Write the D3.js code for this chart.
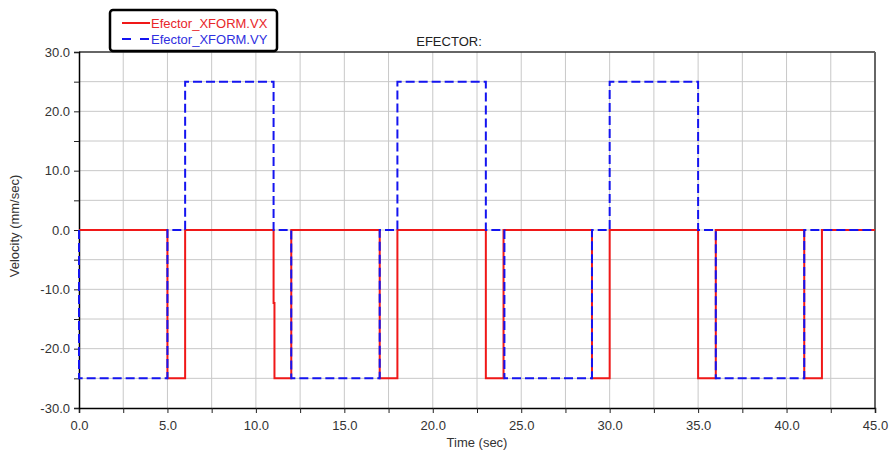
<!DOCTYPE html>
<html>
<head>
<meta charset="utf-8">
<script src="https://cdn.jsdelivr.net/npm/d3@7"></script>
<style>
    body { margin: 0; background: #fff; }
    text { font-family: "Liberation Sans", Arial, sans-serif; }
</style>
</head>
<body>
<svg id="chart"></svg>
<script>
(function () {
    // step series (time in sec, velocity in mm/sec)
    const vxTime  = [0, 5, 5, 6, 6, 11, 11, 11.05, 11.05, 12, 12, 17, 17, 18, 18, 23, 23, 24, 24, 29, 29, 30, 30, 35, 35, 36, 36, 41, 41, 42, 42, 45];
    const vxValue = [0, 0, -25, -25, 0, 0, -12.3, -12.3, -25, -25, 0, 0, -25, -25, 0, 0, -25, -25, 0, 0, -25, -25, 0, 0, -25, -25, 0, 0, -25, -25, 0, 0];

    const vyTime  = [0, 0, 5, 5, 6, 6, 11, 11, 12, 12, 17, 17, 18, 18, 23, 23, 24.05, 24.05, 29, 29, 30, 30, 35, 35, 36, 36, 41, 41, 45];
    const vyValue = [0, -25, -25, 0, 0, 25, 25, 0, 0, -25, -25, 0, 0, 25, 25, 0, 0, -25, -25, 0, 0, 25, 25, 0, 0, -25, -25, 0, 0];

    const xTicks = [0, 5, 10, 15, 20, 25, 30, 35, 40, 45];
    const xMinor = [2.5, 7.5, 12.5, 17.5, 22.5, 27.5, 32.5, 37.5, 42.5];
    const yTicks = [30, 20, 10, 0, -10, -20, -30];
    const yMinor = [25, 15, 5, -5, -15, -25];

    const seriesNames = ["Efector_XFORM.VX", "Efector_XFORM.VY"];
    const seriesColors = ["#f01818", "#1414f0"];
    const textColors = ["#e8262a", "#2f2fe0"];

    const width = 890, height = 455;
    const margin = {left: 79, right: 15, top: 52, bottom: 47};

    const svg = d3.select("#chart")
        .attr("width", width)
        .attr("height", height);

    const x = d3.scaleLinear().domain([0, 45]).range([margin.left, width - margin.right]);
    const y = d3.scaleLinear().domain([-30, 30]).range([height - margin.bottom, margin.top]);

    // grid
    const grid = svg.append("g");
    xTicks.concat(xMinor).filter(d => d > 0 && d < 45).forEach(d => {
        grid.append("line")
            .attr("x1", x(d)).attr("x2", x(d))
            .attr("y1", y(30)).attr("y2", y(-30))
            .attr("stroke", "#c8c8c8").attr("stroke-width", 1);
    });
    yTicks.concat(yMinor).filter(d => d > -30 && d < 30).forEach(d => {
        grid.append("line")
            .attr("x1", x(0)).attr("x2", x(45))
            .attr("y1", y(d)).attr("y2", y(d))
            .attr("stroke", "#c8c8c8").attr("stroke-width", 1);
    });

    // frame top / right
    svg.append("line")
        .attr("x1", x(0)).attr("x2", x(45))
        .attr("y1", y(30)).attr("y2", y(30))
        .attr("stroke", "#333").attr("stroke-width", 1.5);
    svg.append("line")
        .attr("x1", x(45)).attr("x2", x(45))
        .attr("y1", y(30)).attr("y2", y(-30))
        .attr("stroke", "#666").attr("stroke-width", 2);

    // axes
    const xAxis = svg.append("g")
        .attr("transform", `translate(0,${y(-30)})`)
        .call(d3.axisBottom(x).tickValues(xTicks.concat(xMinor)).tickSize(5)
            .tickFormat(d => xTicks.includes(d) ? d.toFixed(1) : ""));
    const yAxis = svg.append("g")
        .attr("transform", `translate(${x(0)},0)`)
        .call(d3.axisLeft(y).tickValues(yTicks.concat(yMinor)).tickSize(5)
            .tickFormat(d => yTicks.includes(d) ? d.toFixed(1) : ""));

    [xAxis, yAxis].forEach(a => {
        a.select(".domain").attr("stroke", "#000").attr("stroke-width", 1.5);
        a.selectAll(".tick line").attr("stroke", "#222");
        a.selectAll(".tick text")
            .attr("fill", "#333")
            .style("font-size", "13px")
            .style("font-family", "'Liberation Sans', Arial, sans-serif");
    });
    xAxis.selectAll(".tick text").attr("dy", "1.05em");
    yAxis.selectAll(".tick text").attr("x", -9);

    // series
    const line = d3.line()
        .x(d => x(d[0]))
        .y(d => y(d[1]));

    const vx = vxTime.map((t, i) => [t, vxValue[i]]);
    const vy = vyTime.map((t, i) => [t, vyValue[i]]);

    svg.append("path")
        .datum(vx)
        .attr("d", line)
        .attr("fill", "none")
        .attr("stroke", seriesColors[0])
        .attr("stroke-width", 2);

    svg.append("path")
        .datum(vy)
        .attr("d", line)
        .attr("fill", "none")
        .attr("stroke", seriesColors[1])
        .attr("stroke-width", 2)
        .attr("stroke-dasharray", "9,4");

    // titles
    svg.append("text")
        .attr("x", 449).attr("y", 46)
        .attr("text-anchor", "middle")
        .attr("fill", "#222")
        .style("font-size", "13px")
        .text("EFECTOR:");

    svg.append("text")
        .attr("x", (x(0) + x(45)) / 2).attr("y", 447)
        .attr("text-anchor", "middle")
        .attr("fill", "#333")
        .style("font-size", "13px")
        .text("Time (sec)");

    svg.append("text")
        .attr("transform", `translate(19,${(y(30) + y(-30)) / 2 - 4}) rotate(-90)`)
        .attr("text-anchor", "middle")
        .attr("fill", "#333")
        .style("font-size", "13px")
        .text("Velocity (mm/sec)");

    // legend
    const legend = svg.append("g");
    legend.append("rect")
        .attr("x", 110).attr("y", 10)
        .attr("width", 167).attr("height", 41)
        .attr("rx", 3)
        .attr("fill", "#fff")
        .attr("stroke", "#000")
        .attr("stroke-width", 2.5);

    seriesNames.forEach((name, i) => {
        const ly = 23 + i * 16;
        legend.append("line")
            .attr("x1", 122).attr("x2", 150)
            .attr("y1", ly).attr("y2", ly)
            .attr("stroke", seriesColors[i])
            .attr("stroke-width", 2)
            .attr("stroke-dasharray", i === 1 ? "9,9" : null);
        legend.append("text")
            .attr("x", 151).attr("y", ly + 5)
            .attr("fill", textColors[i])
            .style("font-size", "13px")
            .text(name);
    });
})();
</script>
</body>
</html>
